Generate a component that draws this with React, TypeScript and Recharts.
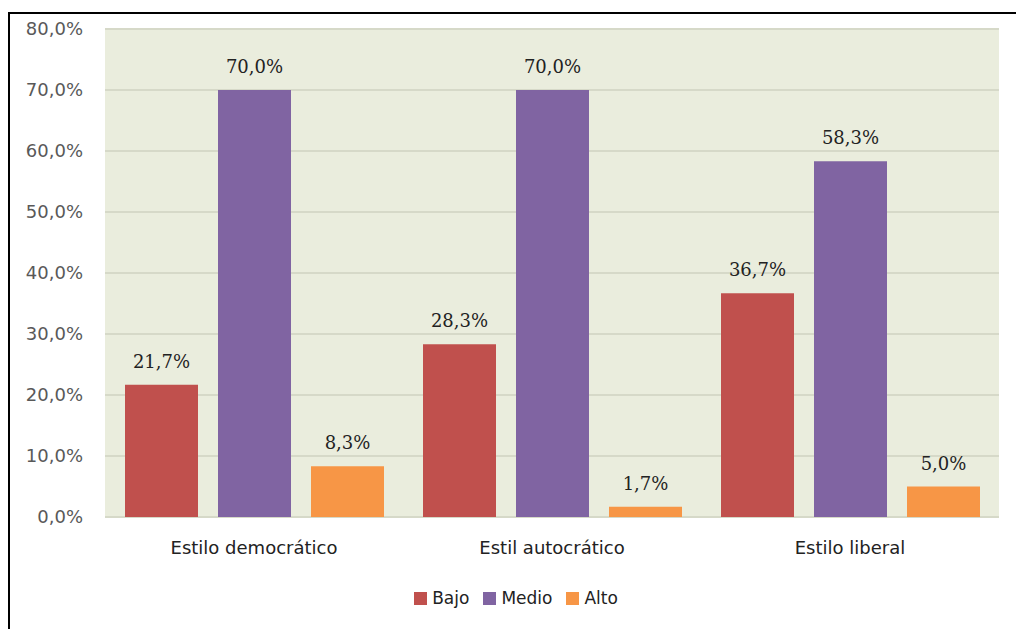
import React from 'react';
import { BarChart, Bar, XAxis, YAxis, CartesianGrid, Legend, LabelList } from 'recharts';

const categories = ['Estilo democrático', 'Estil autocrático', 'Estilo liberal'];
const bajo = [21.7, 28.3, 36.7];
const medio = [70.0, 70.0, 58.3];
const alto = [8.3, 1.7, 5.0];
const yTicks = [0, 10, 20, 30, 40, 50, 60, 70, 80];

const series = [
  { key: 'bajo', name: 'Bajo', color: '#C0504D' },
  { key: 'medio', name: 'Medio', color: '#8064A2' },
  { key: 'alto', name: 'Alto', color: '#F79646' },
];

const data = categories.map((name, i) => ({ name, bajo: bajo[i], medio: medio[i], alto: alto[i] }));

const pct = (v: number) => `${Number(v).toFixed(1).replace('.', ',')}%`;

const LegendContent = () => (
  <div style={{ display: 'flex', justifyContent: 'center', alignItems: 'center', height: 24, paddingLeft: 20, fontFamily: 'DejaVu Sans', fontSize: 17, color: '#222' }}>
    {series.map((s) => (
      <div key={s.key} style={{ display: 'flex', alignItems: 'center', marginRight: 14 }}>
        <span style={{ width: 13, height: 13, background: s.color, display: 'inline-block', marginRight: 5 }} />
        <span>{s.name}</span>
      </div>
    ))}
  </div>
);

export default function App() {
  return (
    <div style={{ position: 'absolute', left: 8, top: 12, width: 1008, height: 617, borderTop: '2px solid #000', borderLeft: '2px solid #000', background: '#fff' }}>
      <BarChart
        width={1006}
        height={615}
        data={data}
        margin={{ top: 15, right: 17, left: 15, bottom: 48 }}
        barCategoryGap={20}
        barGap={20}
      >
        <CartesianGrid vertical={false} fill="#EAEDDD" stroke="#D6D9C8" strokeWidth={2} />
        <XAxis
          dataKey="name"
          axisLine={false}
          tickLine={false}
          tickSize={0}
          tickMargin={24}
          height={40}
          tick={{ fontFamily: 'DejaVu Sans', fontSize: 18, fill: '#222' }}
        />
        <YAxis
          domain={[0, 80]}
          ticks={yTicks}
          tickFormatter={pct}
          axisLine={false}
          tickLine={false}
          tickSize={0}
          tickMargin={22}
          width={80}
          tick={{ fontFamily: 'DejaVu Sans', fontSize: 18, fill: '#595959' }}
        />
        <Legend
          verticalAlign="bottom"
          height={24}
          content={<LegendContent />}
          wrapperStyle={{ top: 572, left: 0, width: 1006 }}
        />
        {series.map((s) => (
          <Bar key={s.key} dataKey={s.key} name={s.name} fill={s.color} isAnimationActive={false}>
            <LabelList
              dataKey={s.key}
              position="top"
              offset={17}
              formatter={(v: any) => pct(v)}
              style={{ fontFamily: 'DejaVu Serif', fontSize: 18, fill: '#222' }}
            />
          </Bar>
        ))}
      </BarChart>
    </div>
  );
}
